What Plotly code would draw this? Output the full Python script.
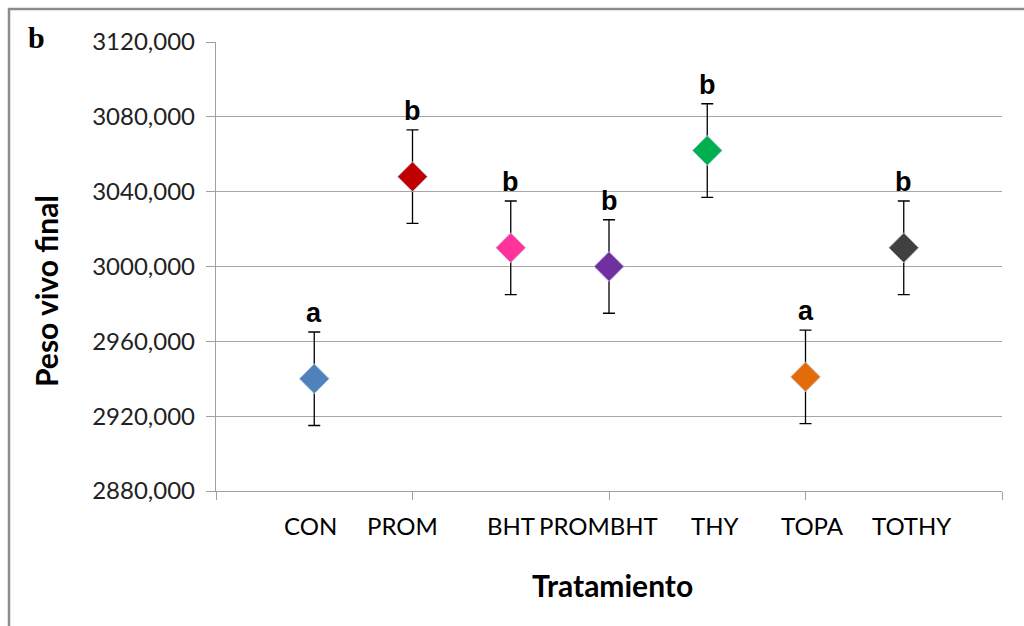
import plotly.graph_objects as go

categories = ["CON", "PROM", "BHT", "PROMBHT", "THY", "TOPA", "TOTHY"]
x_pos = [1, 2, 3, 4, 5, 6, 7]
means = [2940, 3048, 3010, 3000, 3062, 2941, 3010]
errors = [25, 25, 25, 25, 25, 25, 25]
letters = ["a", "b", "b", "b", "b", "a", "b"]
colors = ["#4F81BD", "#C00000", "#FF3399", "#7030A0", "#00B050", "#E36C09", "#404040"]
y_ticks = [2880, 2920, 2960, 3000, 3040, 3080, 3120]
y_ticktext = ["2880,000", "2920,000", "2960,000", "3000,000", "3040,000", "3080,000", "3120,000"]
x_ticks = [0, 2, 4, 6, 8]

fig = go.Figure()
fig.add_trace(go.Scatter(
    x=x_pos, y=means, mode="markers",
    marker=dict(symbol="diamond", size=23, color=colors,
                line=dict(color="rgba(200,210,230,0.8)", width=1)),
    error_y=dict(type="data", array=errors, color="black", thickness=1.3, width=6),
    showlegend=False, hoverinfo="skip",
))

font_main = "Lato, Open Sans, sans-serif"
PW, PH = 786, 449
ann = []
for xv, m, e, l in zip(x_pos, means, errors, letters):
    ann.append(dict(x=xv, y=m + e, text="<b>" + l + "</b>", showarrow=False,
                    yanchor="bottom", yshift=2, xref="x", yref="y",
                    font=dict(family="Liberation Sans, Arial, sans-serif", size=27, color="black")))
label_offsets = [-0.04, -0.10, 0.0, -0.11, 0.07, 0.07, 0.08]
for xv, c, off in zip(x_pos, categories, label_offsets):
    ann.append(dict(x=xv + off, y=0, yref="paper", xref="x", text=c, showarrow=False,
                    yanchor="middle", yshift=-34,
                    font=dict(family=font_main, size=24, color="black")))
ann.append(dict(x=(612 - 216) / PW, y=-(585 - 491) / PH, xref="paper", yref="paper",
                text="<b>Tratamiento</b>", showarrow=False, xanchor="center", yanchor="middle",
                font=dict(family=font_main, size=30, color="black")))
ann.append(dict(x=(46 - 216) / PW, y=(491 - 291) / PH, xref="paper", yref="paper",
                text="<b>Peso vivo final</b>", showarrow=False, textangle=-90,
                xanchor="center", yanchor="middle",
                font=dict(family=font_main, size=30, color="black")))
ann.append(dict(x=(36 - 216) / PW, y=(491 - 38) / PH, xref="paper", yref="paper",
                text="<b>b</b>", showarrow=False, xanchor="center", yanchor="middle",
                font=dict(family="Liberation Serif, DejaVu Serif, serif", size=30, color="black")))

fig.update_layout(
    width=1024, height=626,
    margin=dict(l=216, r=22, t=42, b=135),
    paper_bgcolor="white", plot_bgcolor="white",
    annotations=ann,
    xaxis=dict(range=[0, 8], tickvals=x_ticks, showticklabels=False, ticks="outside",
               ticklen=8, tickcolor="#A0A0A0", showgrid=False, zeroline=False,
               showline=True, linecolor="#A0A0A0", linewidth=1.3),
    yaxis=dict(range=[2880, 3120], tickvals=y_ticks, ticktext=y_ticktext, ticks="outside",
               ticklen=9, tickcolor="#A0A0A0", showgrid=True, gridcolor="#A6A6A6", gridwidth=1.3,
               zeroline=False, showline=True, linecolor="#A0A0A0", linewidth=1.3,
               tickfont=dict(family=font_main, size=24, color="#222222"), ticklabelstandoff=6),
    shapes=[dict(type="rect", xref="paper", yref="paper",
                 x0=(9 - 216) / PW, x1=(1040 - 216) / PW,
                 y0=(491 - 640) / PH, y1=(491 - 9) / PH,
                 line=dict(color="#8C8C8C", width=2.5), fillcolor="rgba(0,0,0,0)")],
)

fig.write_html("out.html", config={"displayModeBar": False},
               post_script="document.body.style.margin='0';document.body.style.overflow='hidden';")
